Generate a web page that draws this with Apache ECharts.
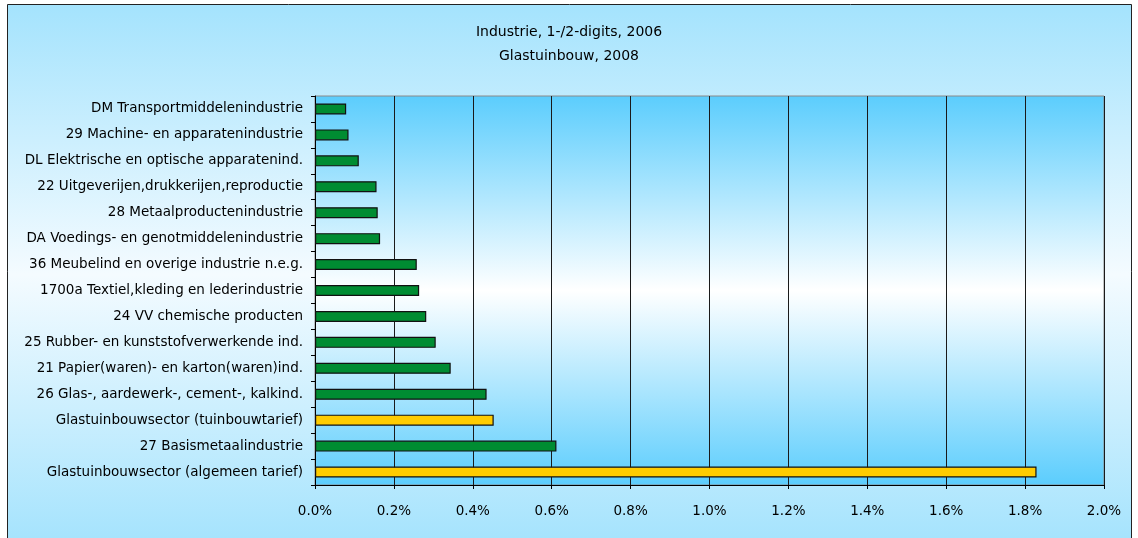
<!DOCTYPE html>
<html><head><meta charset="utf-8">
<script src="https://cdn.jsdelivr.net/npm/echarts@6/dist/echarts.min.js"></script>
<style>html,body{margin:0;padding:0;background:#fff;}#c{width:1138px;height:538px;}</style>
</head><body><div id="c"></div>
<script>
const titleLines = ['Industrie, 1-/2-digits, 2006', 'Glastuinbouw, 2008'];
const categories = [
  'DM Transportmiddelenindustrie',
  '29 Machine- en apparatenindustrie',
  'DL Elektrische en optische apparatenind.',
  '22 Uitgeverijen,drukkerijen,reproductie',
  '28 Metaalproductenindustrie',
  'DA Voedings- en genotmiddelenindustrie',
  '36 Meubelind en overige industrie n.e.g.',
  '1700a Textiel,kleding en lederindustrie',
  '24 VV chemische producten',
  '25 Rubber- en kunststofverwerkende ind.',
  '21 Papier(waren)- en karton(waren)ind.',
  '26 Glas-, aardewerk-, cement-, kalkind.',
  'Glastuinbouwsector (tuinbouwtarief)',
  '27 Basismetaalindustrie',
  'Glastuinbouwsector (algemeen tarief)'
];
const industrieValues = [0.079, 0.085, 0.111, 0.156, 0.159, 0.165, 0.258, 0.264, 0.282, 0.306, 0.344, 0.435, null, 0.612, null];
const glastuinbouwValues = [null, null, null, null, null, null, null, null, null, null, null, null, 0.453, null, 1.829];
const xMin = 0, xMax = 2, xStep = 0.2;

const chart = echarts.init(document.getElementById('c'));
const font = '"DejaVu Sans", sans-serif';
const vgrad = (edge, mid) => new echarts.graphic.LinearGradient(0, 0, 0, 1, [
  {offset: 0, color: edge}, {offset: 0.5, color: mid}, {offset: 1, color: edge}
]);
chart.setOption({
  animation: false,
  graphic: [{
    type: 'rect', z: -10, silent: true,
    shape: {x: 7.5, y: 4.5, width: 1124, height: 540},
    style: {fill: vgrad('#a4e3fd', '#f4fbff'), stroke: '#222', lineWidth: 1}
  }],
  title: {
    text: titleLines.join('\n'),
    left: 564, top: 15, textAlign: 'center',
    textStyle: {fontFamily: font, fontSize: 14, fontWeight: 'normal', color: '#000', lineHeight: 24}
  },
  grid: {
    left: 315, right: 34, top: 96, bottom: 53, containLabel: false,
    show: true, borderColor: '#8a8a8a', borderWidth: 1,
    backgroundColor: vgrad('#5bcdfd', '#ffffff')
  },
  xAxis: {
    type: 'value', min: xMin, max: xMax, interval: xStep,
    axisLine: {show: true, lineStyle: {color: '#000', width: 1}},
    axisTick: {show: true, length: 4, lineStyle: {color: '#000'}},
    splitLine: {show: true, lineStyle: {color: '#1a1a1a', width: 1}},
    axisLabel: {fontFamily: font, fontSize: 13.5, color: '#000', margin: 19,
      formatter: v => v.toFixed(1) + '%'}
  },
  yAxis: {
    type: 'category', data: categories, inverse: true,
    axisLine: {show: true, lineStyle: {color: '#000', width: 1}},
    axisTick: {show: true, length: 4, lineStyle: {color: '#000'}},
    splitLine: {show: false},
    axisLabel: {fontFamily: font, fontSize: 13.5, color: '#000', margin: 12}
  },
  series: [
    {
      name: 'Industrie', type: 'bar', data: industrieValues, barWidth: 11, barGap: '-100%',
      itemStyle: {color: '#008c32', borderColor: '#111', borderWidth: 1.2}
    },
    {
      name: 'Glastuinbouw', type: 'bar', data: glastuinbouwValues, barWidth: 11, barGap: '-100%',
      itemStyle: {color: '#ffcc00', borderColor: '#111', borderWidth: 1.2}
    }
  ]
});
</script></body></html>
